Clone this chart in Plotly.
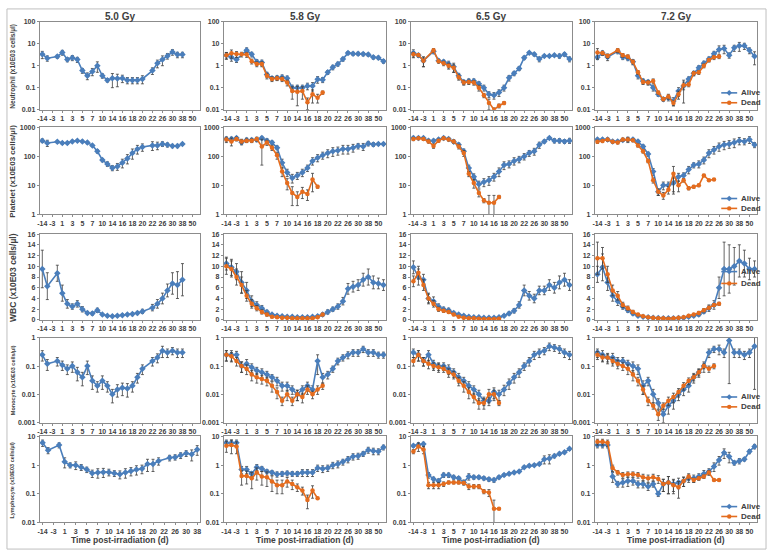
import plotly.graph_objects as go

N = None
W, H = 771, 557

# ---------------- categories (days post-irradiation) ----------------
days = [-14, -7, -3, 0, 1, 2, 3, 4, 5, 6, 7, 8, 10, 12, 14, 15, 16, 17, 18, 19,
        20, 21, 22, 24, 26, 28, 30, 34, 38, 45, 50, 60]
day_labels = [str(d) for d in days]

dose_titles = ["5.0 Gy", "5.8 Gy", "6.5 Gy", "7.2 Gy"]
row_titles = ["Neutrophil (x10E03 cells/µl)", "Platelet (x10E03 cells/µl)",
              "WBC (x10E03 cells/µl)", "Monocyte (x10E03 cells/µl)",
              "Lymphocyte (x10E03 cells/µl)"]
x_title = "Time post-irradiation (d)"
series_names = ["Alive", "Dead"]

# ---------------- Neutrophil ----------------
neut_50_alive = [3.3, 2.2, N, 2.6, 4.0, 1.9, 2.3, 1.9, 0.6, 0.35, 0.55, 1.0, 0.35, 0.22, 0.27, 0.26, 0.27, 0.22, 0.22, 0.22, 0.25, N, 0.6, 1.3, 1.9, 2.8, 4.2, 3.2, 3.2]
neut_50_alive_sd = [1.2, 0.6, N, 0.4, 1.0, 0.4, 0.6, 0.5, 0.15, 0.12, 0.2, 0.5, 0.08, 0.04, 0.17, 0.15, 0.1, 0.07, 0.07, 0.07, 0.1, N, 0.2, 0.5, 0.9, 0.8, 1.2, 0.9, 0.9]

neut_58_alive = [3.0, 2.4, 1.9, N, 5.0, 3.3, 1.5, 1.4, 0.4, 0.27, 0.28, 0.3, 0.27, 0.1, 0.1, 0.1, 0.12, 0.12, 0.24, 0.23, 0.5, 0.85, 1.2, 2.0, 3.8, 3.5, 3.5, 3.4, 3.2, 2.4, 2.3, 1.6]
neut_58_alive_sd = [1.0, 0.8, 0.5, N, 1.5, 0.8, 0.4, 0.4, 0.1, 0.05, 0.06, 0.08, 0.07, 0.03, 0.03, 0.03, 0.04, 0.05, 0.08, 0.06, 0.1, 0.2, 0.25, 0.4, 0.6, 0.6, 0.6, 0.6, 0.5, 0.4, 0.4, 0.3]
neut_58_dead = [3.0, 3.7, 3.4, 3.3, 3.2, 1.6, 1.2, 1.2, 0.35, 0.25, 0.27, 0.25, 0.17, 0.07, 0.065, 0.07, 0.022, 0.05, 0.035, 0.06]
neut_58_dead_sd = [1.0, 1.5, 1.0, 0.8, 0.8, 0.4, 0.3, 0.3, 0.1, 0.06, 0.06, 0.06, 0.05, 0.04, 0.05, 0.04, 0.012, 0.03, 0.015, 0.01]

neut_65_alive = [3.8, 3.0, 1.7, N, 4.5, 1.7, 1.5, 1.2, 0.9, 0.35, 0.18, 0.2, 0.2, 0.15, 0.1, 0.05, 0.045, 0.06, 0.1, 0.28, 0.45, 0.75, 2.3, 3.9, 3.3, 2.0, 2.8, 2.8, 3.0, 2.8, 3.3, 2.0]
neut_65_alive_sd = [1.5, 0.6, 0.8, N, 1.0, 0.3, 0.3, 0.4, 0.4, 0.1, 0.04, 0.05, 0.05, 0.04, 0.03, 0.015, 0.015, 0.02, 0.03, 0.08, 0.1, 0.15, 0.4, 0.5, 0.5, 0.5, 0.3, 0.3, 0.3, 0.6, 0.6, 0.5]
neut_65_dead = [3.3, 3.1, 1.7, N, 5.0, 1.6, 1.3, 1.0, 0.8, 0.3, 0.17, 0.18, 0.17, 0.1, 0.045, 0.02, 0.01, 0.015, 0.02]
neut_65_dead_sd = [0.8, 0.5, 0.8, N, 1.0, 0.3, 0.3, 0.3, 0.3, 0.08, 0.04, 0.04, 0.04, 0.03, 0.01, 0.01, 0.002, 0.003, 0.003]

neut_72_alive = [2.4, 3.8, 2.5, N, 4.5, 2.5, 2.2, 1.5, 0.35, 0.2, 0.18, 0.1, 0.05, 0.03, 0.035, 0.025, 0.07, 0.12, 0.25, 0.45, 0.8, 1.3, 2.0, 3.5, 5.5, 6.0, 3.0, 6.5, 8.0, 8.0, 5.0, 2.7]
neut_72_alive_sd = [0.5, 0.8, 0.8, N, 1.0, 0.6, 0.5, 0.4, 0.1, 0.05, 0.04, 0.03, 0.01, 0.005, 0.01, 0.01, 0.03, 0.1, 0.06, 0.1, 0.2, 0.3, 0.5, 1.0, 2.5, 2.5, 0.8, 2.0, 3.5, 2.5, 1.5, 1.6]
neut_72_dead = [4.0, 3.8, 2.8, N, 5.0, 3.0, 2.6, 1.5, 0.5, 0.18, 0.17, 0.2, 0.06, 0.03, 0.04, 0.02, 0.05, 0.13, 0.14, 0.45, 0.5, 1.0, 1.8, 2.4, 2.6]
neut_72_dead_sd = [2.0, 0.8, 0.6, N, 1.0, 0.6, 0.5, 0.3, 0.1, 0.04, 0.04, 0.05, 0.01, 0.005, 0.01, 0.005, 0.02, 0.05, 0.03, 0.1, 0.1, 0.2, 0.3, 0.5, 0.5]

# ---------------- Platelet ----------------
plt_50_alive = [350, 290, N, 320, 290, 290, 330, 350, 330, 300, 240, 150, 75, 55, 40, 45, 60, 85, 130, 180, 210, N, 240, 240, 270, 250, 230, 230, 270]
plt_50_alive_sd = [50, 70, N, 30, 30, 30, 30, 30, 30, 30, 20, 20, 10, 10, 8, 12, 20, 30, 50, 60, 60, N, 80, 70, 50, 40, 30, 30, 20]

plt_58_alive = [400, 400, 430, 310, 370, 370, 380, 430, 350, 300, 200, 60, 28, 18, 22, 28, 40, 70, 90, 110, 130, 150, 160, 180, 180, 200, 230, 220, 280, 260, 270, 270]
plt_58_alive_sd = [60, 60, 40, 60, 60, 50, 60, 60, 60, 40, 30, 20, 8, 6, 6, 8, 10, 20, 25, 30, 40, 50, 50, 60, 60, 60, 50, 60, 50, 40, 30, 30]
plt_58_dead = [380, 330, 400, 330, 350, 350, 400, 220, 300, 200, 110, 30, 12, 5.5, 4, 6, 5, 16, 9]
plt_58_dead_sd = [80, 100, 60, 60, 50, 50, 60, 170, 60, 40, 30, 10, 5, 3.5, 2, 2.5, 2, 10, 1]

plt_65_alive = [430, 430, 430, 350, 350, 380, 430, 400, 320, 250, 150, 40, 20, 11, 13, 15, 20, 30, 50, 55, 70, 80, 100, 130, 150, 250, 330, 430, 350, 350, 330, 350]
plt_65_alive_sd = [60, 50, 50, 40, 40, 40, 50, 50, 40, 40, 30, 10, 5, 3, 4, 5, 6, 10, 15, 15, 20, 20, 25, 30, 40, 60, 40, 40, 60, 60, 50, 70]
plt_65_dead = [400, 420, 400, 330, 230, 350, 420, 380, 330, 220, 130, 25, 12, 5.5, 3, 2.5, 2.5, 4]
plt_65_dead_sd = [50, 40, 40, 40, 40, 40, 40, 40, 40, 40, 30, 5, 4, 1.5, 0.5, 2.0, 2.0, 0.5]

plt_72_alive = [380, 380, 380, 330, 330, 370, 380, 380, 330, 220, 120, 30, 6, 10, 10, 12, 20, 22, 35, 50, 55, 75, 130, 170, 220, 250, 270, 300, 350, 330, 380, 250]
plt_72_alive_sd = [40, 40, 40, 30, 30, 40, 80, 40, 30, 30, 20, 8, 1.5, 3, 3, 6, 6, 5, 10, 10, 15, 20, 40, 50, 70, 80, 80, 100, 100, 80, 100, 50]
plt_72_dead = [320, 340, 380, 320, 300, 380, 380, 360, 240, 150, 70, 15, 6, 4.5, 7, 25, 10, 15, 8, 9, 10, 22, 15, 16]
plt_72_dead_sd = [40, 40, 40, 30, 30, 40, 60, 40, 30, 20, 10, 3, 1.5, 1.2, 2, 20, 4, 2, 1, 1, 1, 2, 1, 1]

# ---------------- WBC ----------------
wbc_50_alive = [9.5, 6.3, N, 8.7, 5.0, 3.0, 2.5, 3.0, 2.0, 1.3, 1.2, 1.8, 1.0, 0.8, 0.7, 0.8, 0.9, 1.0, 1.1, 1.3, 1.6, N, 2.3, 3.0, 4.0, 5.5, 6.8, 6.5, 7.5]
wbc_50_alive_sd = [3.5, 2.5, N, 1.5, 1.5, 0.8, 0.5, 0.6, 0.5, 0.3, 0.3, 0.4, 0.2, 0.2, 0.2, 0.2, 0.2, 0.2, 0.3, 0.3, 0.4, N, 0.6, 0.8, 1.0, 1.2, 2.0, 2.5, 3.0]

wbc_58_alive = [10.5, 9.8, 9.0, 7.0, 5.5, 3.5, 2.8, 2.2, 1.5, 1.0, 0.8, 0.7, 0.6, 0.6, 0.5, 0.5, 0.5, 0.6, 0.7, 1.0, 1.5, 2.0, 2.5, 3.5, 5.8, 6.2, 6.5, 7.5, 8.0, 7.0, 6.8, 6.5]
wbc_58_alive_sd = [1.2, 1.5, 1.5, 2.0, 1.5, 1.0, 0.6, 0.5, 0.3, 0.2, 0.2, 0.1, 0.1, 0.1, 0.1, 0.1, 0.1, 0.1, 0.2, 0.3, 0.4, 0.4, 0.5, 0.7, 1.0, 1.0, 1.0, 1.2, 1.5, 1.2, 1.0, 1.0]
wbc_58_dead = [10.0, 9.5, 8.0, 6.5, 4.5, 3.0, 2.2, 1.5, 1.0, 0.6, 0.5, 0.4, 0.4, 0.3, 0.3, 0.3, 0.3, 0.3, 0.5, 1.0]
wbc_58_dead_sd = [1.5, 1.5, 1.5, 1.5, 1.0, 0.8, 0.5, 0.4, 0.3, 0.2, 0.1, 0.1, 0.1, 0.1, 0.1, 0.1, 0.1, 0.1, 0.2, 0.2]

wbc_65_alive = [9.8, 8.0, 7.5, 4.0, 3.5, 2.5, 2.0, 1.8, 1.3, 1.0, 0.8, 0.6, 0.5, 0.5, 0.4, 0.4, 0.4, 0.5, 0.8, 1.2, 1.7, 2.8, 5.5, 4.5, 4.0, 5.5, 5.5, 6.5, 6.0, 7.0, 7.5, 6.5]
wbc_65_alive_sd = [1.2, 1.5, 1.0, 1.0, 0.8, 0.5, 0.4, 0.4, 0.3, 0.2, 0.2, 0.1, 0.1, 0.1, 0.1, 0.1, 0.1, 0.1, 0.2, 0.3, 0.4, 0.6, 1.0, 0.8, 0.8, 0.8, 0.8, 1.0, 1.0, 1.2, 1.2, 1.0]
wbc_65_dead = [7.2, 8.8, 6.5, 4.0, 3.0, 2.0, 1.7, 1.5, 1.0, 0.6, 0.4, 0.3, 0.3, 0.25, 0.2, 0.2, 0.2, 0.25]
wbc_65_dead_sd = [1.0, 1.2, 1.0, 0.8, 0.6, 0.4, 0.3, 0.3, 0.2, 0.1, 0.1, 0.05, 0.05, 0.05, 0.05, 0.05, 0.05, 0.05]

wbc_72_alive = [8.5, 9.8, 7.0, 4.5, 3.5, 2.5, 1.8, 1.2, 0.8, 0.6, 0.5, 0.4, 0.35, 0.3, 0.3, 0.3, 0.35, 0.4, 0.6, 0.8, 1.0, 1.6, 2.2, 2.8, 6.0, 9.5, 9.5, 10.0, 11.0, 10.5, 9.5, 9.5]
wbc_72_alive_sd = [1.5, 2.5, 1.5, 1.0, 0.8, 0.5, 0.4, 0.3, 0.2, 0.1, 0.1, 0.1, 0.1, 0.1, 0.1, 0.1, 0.1, 0.1, 0.2, 0.2, 0.3, 0.4, 0.6, 0.8, 2.0, 5.0, 4.5, 3.5, 3.0, 2.5, 2.0, 1.5]
wbc_72_dead = [11.5, 11.5, 8.5, 5.5, 4.5, 2.8, 2.2, 1.5, 1.0, 0.7, 0.5, 0.4, 0.3, 0.3, 0.25, 0.3, 0.4, 0.5, 0.8, 1.0, 1.3, 1.8, 2.3, 2.8, 3.0]
wbc_72_dead_sd = [3.0, 2.0, 1.5, 1.0, 0.8, 0.5, 0.4, 0.3, 0.2, 0.1, 0.1, 0.1, 0.1, 0.1, 0.1, 0.1, 0.1, 0.1, 0.2, 0.2, 0.3, 0.3, 0.3, 0.3, 0.3]

# ---------------- Monocyte ----------------
mono_50_alive = [0.25, 0.12, N, 0.15, 0.11, 0.08, 0.1, 0.06, 0.04, 0.1, 0.03, 0.02, 0.03, 0.02, 0.01, 0.015, 0.017, 0.016, 0.02, 0.04, 0.08, N, 0.15, 0.2, 0.35, 0.3, 0.35, 0.3, 0.3]
mono_50_alive_sd = [0.1, 0.05, N, 0.05, 0.04, 0.03, 0.04, 0.03, 0.02, 0.05, 0.015, 0.008, 0.015, 0.008, 0.005, 0.007, 0.008, 0.008, 0.008, 0.015, 0.03, N, 0.05, 0.07, 0.15, 0.1, 0.1, 0.1, 0.1]

mono_58_alive = [0.25, 0.25, 0.25, 0.1, 0.12, 0.09, 0.07, 0.06, 0.05, 0.04, 0.03, 0.02, 0.02, 0.015, 0.01, 0.015, 0.02, 0.015, 0.15, 0.04, 0.05, 0.08, 0.15, 0.2, 0.25, 0.3, 0.3, 0.4, 0.3, 0.3, 0.25, 0.25]
mono_58_alive_sd = [0.1, 0.1, 0.08, 0.04, 0.05, 0.03, 0.02, 0.02, 0.015, 0.01, 0.01, 0.007, 0.007, 0.005, 0.004, 0.005, 0.007, 0.005, 0.1, 0.015, 0.015, 0.02, 0.04, 0.05, 0.07, 0.08, 0.08, 0.1, 0.08, 0.08, 0.06, 0.06]
mono_58_dead = [0.25, 0.22, 0.15, 0.1, 0.08, 0.05, 0.04, 0.035, 0.03, 0.02, 0.012, 0.006, 0.01, 0.006, 0.01, 0.008, 0.015, 0.01, 0.015, 0.02]
mono_58_dead_sd = [0.1, 0.08, 0.05, 0.04, 0.03, 0.02, 0.015, 0.012, 0.01, 0.008, 0.005, 0.002, 0.004, 0.002, 0.004, 0.003, 0.005, 0.003, 0.005, 0.005]

mono_65_alive = [0.3, 0.25, 0.15, 0.25, 0.12, 0.1, 0.1, 0.08, 0.06, 0.04, 0.03, 0.02, 0.015, 0.01, 0.006, 0.006, 0.012, 0.01, 0.015, 0.025, 0.04, 0.06, 0.1, 0.15, 0.25, 0.3, 0.35, 0.5, 0.45, 0.4, 0.3, 0.25]
mono_65_alive_sd = [0.1, 0.1, 0.05, 0.1, 0.04, 0.03, 0.03, 0.03, 0.02, 0.015, 0.01, 0.008, 0.005, 0.004, 0.002, 0.002, 0.005, 0.004, 0.006, 0.01, 0.015, 0.02, 0.03, 0.05, 0.08, 0.1, 0.1, 0.15, 0.12, 0.12, 0.1, 0.08]
mono_65_dead = [0.15, 0.25, 0.15, 0.12, 0.1, 0.09, 0.08, 0.06, 0.05, 0.03, 0.02, 0.012, 0.008, 0.005, 0.005, 0.01, 0.01, 0.005]
mono_65_dead_sd = [0.05, 0.1, 0.05, 0.04, 0.03, 0.03, 0.02, 0.02, 0.015, 0.01, 0.008, 0.005, 0.003, 0.002, 0.002, 0.005, 0.004, 0.001]

mono_72_alive = [0.3, 0.25, 0.2, 0.2, 0.15, 0.15, 0.12, 0.1, 0.08, 0.02, 0.03, 0.01, 0.005, 0.002, 0.004, 0.006, 0.01, 0.015, 0.02, 0.04, 0.06, 0.1, 0.3, 0.4, 0.4, 0.3, 0.8, 0.3, 0.3, 0.25, 0.3, 0.5]
mono_72_alive_sd = [0.1, 0.1, 0.08, 0.08, 0.05, 0.05, 0.04, 0.04, 0.03, 0.01, 0.01, 0.005, 0.002, 0.001, 0.002, 0.003, 0.004, 0.006, 0.008, 0.015, 0.02, 0.04, 0.1, 0.1, 0.15, 0.1, 2.0, 0.1, 0.1, 0.08, 0.1, 0.6]
mono_72_dead = [0.25, 0.2, 0.2, 0.15, 0.12, 0.1, 0.08, 0.05, 0.03, 0.015, 0.006, 0.004, 0.002, 0.004, 0.006, 0.008, 0.012, 0.02, 0.03, 0.04, 0.06, 0.1, 0.08, 0.1]
mono_72_dead_sd = [0.08, 0.06, 0.06, 0.05, 0.04, 0.03, 0.03, 0.02, 0.01, 0.005, 0.002, 0.001, 0.0008, 0.001, 0.002, 0.003, 0.004, 0.006, 0.008, 0.01, 0.015, 0.02, 0.02, 0.02]

# ---------------- Lymphocyte ----------------
lymph_50_alive = [6.0, 3.3, N, 5.0, 1.3, 1.0, 1.0, 0.85, 0.7, 0.52, 0.55, 0.57, 0.57, 0.52, 0.48, 0.55, 0.62, 0.7, 0.75, 1.1, 1.1, 1.4, N, 1.8, 1.9, 2.2, 2.6, 2.4, 3.5]
lymph_50_alive_sd = [1.5, 0.8, N, 1.0, 0.5, 0.2, 0.3, 0.2, 0.15, 0.15, 0.2, 0.2, 0.15, 0.12, 0.15, 0.2, 0.2, 0.25, 0.25, 0.5, 0.5, 0.4, N, 0.4, 0.4, 0.5, 0.6, 1.0, 1.3]

lymph_58_alive = [6.0, 6.0, 6.0, 0.7, 0.7, 0.5, 0.85, 0.75, 0.6, 0.55, 0.48, 0.5, 0.52, 0.5, 0.5, 0.55, 0.55, 0.55, 0.8, 0.75, 0.8, 1.0, 1.1, 1.3, 1.6, 2.0, 2.1, 2.5, 3.4, 3.1, 3.0, 4.2]
lymph_58_alive_sd = [1.5, 1.5, 1.5, 0.2, 0.2, 0.1, 0.2, 0.15, 0.1, 0.1, 0.1, 0.1, 0.1, 0.1, 0.1, 0.15, 0.15, 0.15, 0.2, 0.2, 0.2, 0.25, 0.3, 0.3, 0.4, 0.5, 0.5, 0.5, 0.8, 0.8, 0.7, 0.8]
lymph_58_dead = [4.8, 5.0, 4.5, 0.42, 0.42, 0.35, 0.55, 0.4, 0.38, 0.27, 0.2, 0.2, 0.27, 0.22, 0.17, 0.13, 0.06, 0.13, 0.07]
lymph_58_dead_sd = [2.0, 2.5, 2.0, 0.22, 0.2, 0.2, 0.25, 0.2, 0.2, 0.15, 0.1, 0.1, 0.1, 0.08, 0.05, 0.04, 0.03, 0.06, 0.005]

lymph_65_alive = [4.8, 5.2, 5.5, 0.45, 0.33, 0.28, 0.45, 0.45, 0.38, 0.35, 0.25, 0.4, 0.38, 0.38, 0.35, 0.32, 0.3, 0.38, 0.45, 0.5, 0.55, 0.6, 0.85, 0.95, 1.0, 1.1, 1.6, 1.7, 2.1, 2.5, 2.8, 3.7]
lymph_65_alive_sd = [0.5, 0.6, 0.8, 0.1, 0.05, 0.05, 0.08, 0.08, 0.06, 0.05, 0.05, 0.1, 0.06, 0.05, 0.05, 0.05, 0.05, 0.05, 0.05, 0.05, 0.05, 0.05, 0.08, 0.08, 0.1, 0.1, 0.5, 0.6, 0.3, 0.3, 0.3, 0.4]
lymph_65_dead = [3.0, 4.5, 3.5, 0.2, 0.2, 0.2, 0.22, 0.25, 0.25, 0.25, 0.24, 0.18, 0.18, 0.18, 0.12, 0.11, 0.03, 0.03]
lymph_65_dead_sd = [0.5, 1.5, 1.0, 0.05, 0.05, 0.05, 0.04, 0.03, 0.03, 0.03, 0.03, 0.04, 0.03, 0.03, 0.02, 0.03, 0.03, 0.002]

lymph_72_alive = [5.0, 5.0, 5.0, 0.4, 0.22, 0.25, 0.28, 0.28, 0.22, 0.22, 0.18, 0.22, 0.1, 0.22, 0.25, 0.22, 0.25, 0.28, 0.35, 0.35, 0.4, 0.5, 0.6, 0.9, 1.5, 2.7, 2.0, 1.2, 1.4, 1.6, 3.0, 4.5]
lymph_72_alive_sd = [1.0, 1.0, 1.0, 0.15, 0.05, 0.08, 0.1, 0.08, 0.06, 0.06, 0.05, 0.05, 0.02, 0.1, 0.15, 0.1, 0.1, 0.1, 0.1, 0.1, 0.1, 0.15, 0.15, 0.3, 0.5, 1.0, 0.8, 0.2, 0.3, 0.2, 0.5, 0.8]
lymph_72_dead = [6.5, 6.5, 6.0, 0.8, 0.55, 0.45, 0.48, 0.48, 0.45, 0.38, 0.35, 0.38, 0.33, 0.22, 0.25, 0.2, 0.17, 0.28, 0.4, 0.3, 0.35, 0.4, 0.55, 0.3, 0.3]
lymph_72_dead_sd = [1.5, 1.5, 1.5, 0.2, 0.1, 0.1, 0.1, 0.1, 0.1, 0.1, 0.1, 0.1, 0.1, 0.1, 0.15, 0.1, 0.1, 0.1, 0.1, 0.05, 0.05, 0.05, 0.1, 0.02, 0.02]

# ---------------- assemble ----------------
panels = {
    (0, 0): (neut_50_alive, neut_50_alive_sd, None, None),
    (0, 1): (neut_58_alive, neut_58_alive_sd, neut_58_dead, neut_58_dead_sd),
    (0, 2): (neut_65_alive, neut_65_alive_sd, neut_65_dead, neut_65_dead_sd),
    (0, 3): (neut_72_alive, neut_72_alive_sd, neut_72_dead, neut_72_dead_sd),
    (1, 0): (plt_50_alive, plt_50_alive_sd, None, None),
    (1, 1): (plt_58_alive, plt_58_alive_sd, plt_58_dead, plt_58_dead_sd),
    (1, 2): (plt_65_alive, plt_65_alive_sd, plt_65_dead, plt_65_dead_sd),
    (1, 3): (plt_72_alive, plt_72_alive_sd, plt_72_dead, plt_72_dead_sd),
    (2, 0): (wbc_50_alive, wbc_50_alive_sd, None, None),
    (2, 1): (wbc_58_alive, wbc_58_alive_sd, wbc_58_dead, wbc_58_dead_sd),
    (2, 2): (wbc_65_alive, wbc_65_alive_sd, wbc_65_dead, wbc_65_dead_sd),
    (2, 3): (wbc_72_alive, wbc_72_alive_sd, wbc_72_dead, wbc_72_dead_sd),
    (3, 0): (mono_50_alive, mono_50_alive_sd, None, None),
    (3, 1): (mono_58_alive, mono_58_alive_sd, mono_58_dead, mono_58_dead_sd),
    (3, 2): (mono_65_alive, mono_65_alive_sd, mono_65_dead, mono_65_dead_sd),
    (3, 3): (mono_72_alive, mono_72_alive_sd, mono_72_dead, mono_72_dead_sd),
    (4, 0): (lymph_50_alive, lymph_50_alive_sd, None, None),
    (4, 1): (lymph_58_alive, lymph_58_alive_sd, lymph_58_dead, lymph_58_dead_sd),
    (4, 2): (lymph_65_alive, lymph_65_alive_sd, lymph_65_dead, lymph_65_dead_sd),
    (4, 3): (lymph_72_alive, lymph_72_alive_sd, lymph_72_dead, lymph_72_dead_sd),
}

row_axes = [
    dict(type="log", range=[-2, 2], tickvals=[0.01, 0.1, 1, 10, 100], ticktext=["0.01", "0.1", "1", "10", "100"]),
    dict(type="log", range=[0, 3], tickvals=[1, 10, 100, 1000], ticktext=["1", "10", "100", "1000"]),
    dict(type="linear", range=[0, 16], tickvals=list(range(0, 17, 2)), ticktext=[str(v) for v in range(0, 17, 2)]),
    dict(type="log", range=[-3, 0], tickvals=[0.001, 0.01, 0.1, 1], ticktext=["0.001", "0.01", "0.1", "1"]),
    dict(type="log", range=[-2, 1], tickvals=[0.01, 0.1, 1, 10], ticktext=["0.01", "0.1", "1", "10"]),
]

# ---------------- layout geometry / styles ----------------
BLUE = "#4A7EBB"
ORANGE = "#E46C1E"
ERR = "#3F3F3F"
AXC = "#8C8C8C"
TXT = "#404040"
FONT = "Liberation Sans Narrow, Liberation Sans, Arial, sans-serif"
FONT2 = "Liberation Sans, Arial, sans-serif"

col_px = [(37, 198), (222, 385), (410, 572), (595, 758)]
row_px = [(18, 107), (125, 213), (233, 320), (338, 424), (438, 525)]
title_sizes = [6.5, 8, 8.5, 5.5, 5.5]
legend_px = [(90, 100), (197, 207), (271, 283), (398, 408), (509, 519)]


def fx(p):
    return p / W


def fy(p):
    return 1 - p / H


def err_arrays(vals, sds, is_log):
    plus, minus = [], []
    for v, s in zip(vals, sds):
        if v is None or s is None:
            plus.append(0)
            minus.append(0)
        else:
            plus.append(s)
            minus.append(min(s, 0.97 * v) if is_log else s)
    return plus, minus


fig = go.Figure()
layout = {}
for r in range(5):
    for c in range(4):
        n = r * 4 + c + 1
        xs = "x" if n == 1 else f"x{n}"
        ys = "y" if n == 1 else f"y{n}"
        xa = "xaxis" if n == 1 else f"xaxis{n}"
        ya = "yaxis" if n == 1 else f"yaxis{n}"
        ncat = 29 if (r == 4 and c == 0) else len(days)
        cats = day_labels[:ncat]
        is_log = row_axes[r]["type"] == "log"
        alive, asd, dead, dsd = panels[(r, c)]
        for vals, sds, color, sym, msize, name in [
            (alive, asd, BLUE, "diamond", 5, series_names[0]),
            (dead, dsd, ORANGE, "circle", 4.5, series_names[1]),
        ]:
            if vals is None:
                continue
            plus, minus = err_arrays(vals, sds, is_log)
            fig.add_trace(go.Scatter(
                x=day_labels[:len(vals)], y=vals, xaxis=xs, yaxis=ys,
                mode="lines+markers", name=name, showlegend=False, connectgaps=True,
                line=dict(color=color, width=1.6),
                marker=dict(color=color, size=msize, symbol=sym),
                error_y=dict(type="data", array=plus, arrayminus=minus, visible=True,
                             color=ERR, thickness=0.8, width=1.5),
                hoverinfo="skip",
            ))
        x0, x1 = col_px[c]
        y0, y1 = row_px[r]
        layout[xa] = dict(
            domain=[fx(x0), fx(x1)], anchor=ys, type="category",
            categoryorder="array", categoryarray=cats, range=[-0.5, ncat - 0.5],
            tickmode="array", tickvals=cats[0::2], ticktext=cats[0::2], tickangle=0,
            tickfont=dict(family=FONT, size=7, color=TXT, weight="bold"),
            showline=True, mirror=True, linecolor=AXC, linewidth=1,
            ticks="outside", ticklen=2, tickcolor=AXC, showgrid=False, zeroline=False,
            fixedrange=True,
        )
        ra = row_axes[r]
        layout[ya] = dict(
            domain=[fy(y1), fy(y0)], anchor=xs, type=ra["type"], range=ra["range"],
            tickmode="array", tickvals=ra["tickvals"], ticktext=ra["ticktext"],
            tickfont=dict(family=FONT, size=7, color=TXT, weight="bold"),
            showline=True, mirror=True, linecolor=AXC, linewidth=1,
            ticks="outside", ticklen=2, tickcolor=AXC, showgrid=False, zeroline=False,
            fixedrange=True,
        )

annotations = []
shapes = []
# dose titles and x-axis titles
for c in range(4):
    xc = fx((col_px[c][0] + col_px[c][1]) / 2)
    annotations.append(dict(text=f"<b>{dose_titles[c]}</b>", x=xc, y=fy(13), xref="paper", yref="paper",
                            showarrow=False, xanchor="center", yanchor="middle",
                            font=dict(family=FONT2, size=10, color=TXT)))
    annotations.append(dict(text=f"<b>{x_title}</b>", x=xc, y=fy(543), xref="paper", yref="paper",
                            showarrow=False, xanchor="center", yanchor="middle",
                            font=dict(family=FONT2, size=8.5, color=TXT)))
# y titles
for r in range(5):
    yc = fy((row_px[r][0] + row_px[r][1]) / 2)
    annotations.append(dict(text=f"<b>{row_titles[r]}</b>", x=fx(10), y=yc, xref="paper", yref="paper",
                            showarrow=False, textangle=-90, xanchor="center", yanchor="middle",
                            font=dict(family=FONT2, size=title_sizes[r], color=TXT)))
# manual legends in the 7.2 Gy column
for r in range(5):
    for name, color, yy, sym in [(series_names[0], BLUE, legend_px[r][0], "diamond"),
                                 (series_names[1], ORANGE, legend_px[r][1], "circle")]:
        shapes.append(dict(type="line", xref="paper", yref="paper", x0=fx(722), x1=fx(738),
                           y0=fy(yy), y1=fy(yy), line=dict(color=color, width=1.6)))
        if sym == "circle":
            shapes.append(dict(type="circle", xref="paper", yref="paper", x0=fx(727.8), x1=fx(732.2),
                               y0=fy(yy + 2.2), y1=fy(yy - 2.2), fillcolor=color, line=dict(width=0)))
        else:
            path = (f"M {fx(730)} {fy(yy - 2.8)} L {fx(732.8)} {fy(yy)} "
                    f"L {fx(730)} {fy(yy + 2.8)} L {fx(727.2)} {fy(yy)} Z")
            shapes.append(dict(type="path", xref="paper", yref="paper", path=path,
                               fillcolor=color, line=dict(width=0)))
        annotations.append(dict(text=f"<b>{name}</b>", x=fx(740), y=fy(yy), xref="paper", yref="paper",
                                showarrow=False, xanchor="left", yanchor="middle",
                                font=dict(family=FONT2, size=8, color=TXT)))
# outer frame
shapes.append(dict(type="rect", xref="paper", yref="paper", x0=fx(4), x1=fx(767), y0=fy(552), y1=fy(5),
                   line=dict(color="#BFBFBF", width=1), fillcolor="rgba(0,0,0,0)", layer="below"))

fig.update_layout(
    width=W, height=H, margin=dict(l=0, r=0, t=0, b=0),
    paper_bgcolor="white", plot_bgcolor="white", showlegend=False,
    annotations=annotations, shapes=shapes, **layout,
)
fig.write_html("out.html", config={"displayModeBar": False, "staticPlot": True},
               post_script="document.body.style.margin='0';document.body.style.overflow='hidden';")
